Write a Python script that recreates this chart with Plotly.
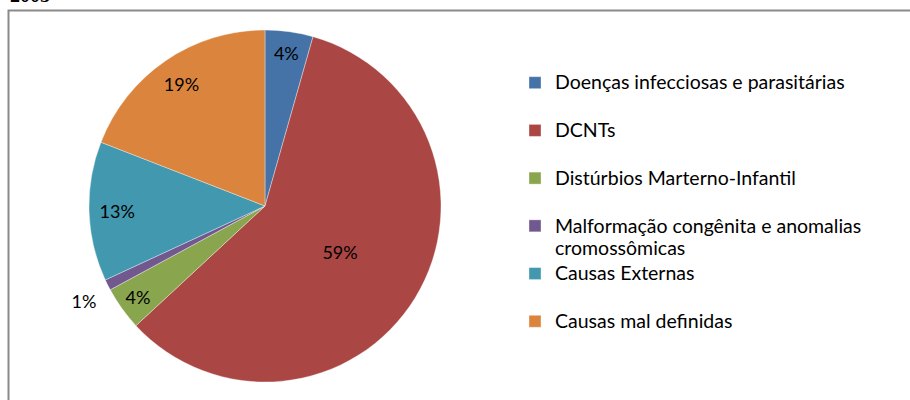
import plotly.graph_objects as go

categories = [
    "Doenças infecciosas e parasitárias",
    "DCNTs",
    "Distúrbios Marterno-Infantil",
    "Malformação congênita e anomalias<br>cromossômicas",
    "Causas Externas",
    "Causas mal definidas",
]
values = [4.4, 58.7, 4.0, 1.0, 12.8, 19.1]
colors = ["#4572A7", "#AA4643", "#89A54E", "#71588F", "#4198AF", "#DB843D"]

# which slices get their percentage from the full pie (centre-ish / outside)
main_text_positions = ["none", "inside", "none", "outside", "none", "none"]
main_templates = ["", "%{percent:.0%}", "", "\u00a0<br>%{percent:.0%}", "", ""]
# which slices get their percentage placed in the outer ring (Excel-like placement)
ring_text_positions = ["inside", "none", "inside", "none", "inside", "inside"]

LEGEND_BASE = 17.2
LEGEND_TEXT = 19.5


def legend_label(c):
    lines = c.split("<br>")
    if len(lines) == 1:
        lines.append(" ")
    return "<br>".join(f"<span style='font-size:{LEGEND_TEXT}px'>{l}</span>" for l in lines)


legend_labels = [legend_label(c) for c in categories]

W, H = 910, 400
cx, cy, r = 265, 206, 176
domain = dict(x=[(cx - r) / W, (cx + r) / W], y=[1 - (cy + r) / H, 1 - (cy - r) / H])
label_font = dict(family="Lato, sans-serif", size=18, color="#000000")

fig = go.Figure()
fig.add_trace(
    go.Pie(
        labels=legend_labels,
        values=values,
        sort=False,
        direction="clockwise",
        rotation=0,
        marker=dict(colors=colors, line=dict(color="rgba(255,255,255,0.6)", width=0.6)),
        texttemplate=main_templates,
        textposition=main_text_positions,
        insidetextorientation="horizontal",
        textfont=label_font,
        domain=domain,
        hoverinfo="label+percent",
        showlegend=True,
    )
)
fig.add_trace(
    go.Pie(
        labels=legend_labels,
        values=values,
        sort=False,
        direction="clockwise",
        rotation=0,
        hole=0.68,
        marker=dict(colors=["rgba(0,0,0,0)"] * len(values), line=dict(width=0)),
        texttemplate="%{percent:.0%}",
        textposition=ring_text_positions,
        insidetextorientation="horizontal",
        textfont=label_font,
        domain=domain,
        hoverinfo="skip",
        showlegend=False,
    )
)

fig.update_layout(
    width=W,
    height=H,
    margin=dict(l=0, r=0, t=0, b=0),
    paper_bgcolor="white",
    plot_bgcolor="white",
    uniformtext=dict(minsize=18, mode="show"),
    font=dict(family="Lato, sans-serif", size=18, color="#000000"),
    legend=dict(
        x=515 / W,
        y=1 - 65 / H,
        xanchor="left",
        yanchor="top",
        valign="top",
        font=dict(family="Lato, sans-serif", size=LEGEND_BASE, color="#000000"),
        bgcolor="rgba(0,0,0,0)",
        itemclick=False,
    ),
    shapes=[
        dict(
            type="rect",
            xref="paper",
            yref="paper",
            x0=8.5 / W,
            x1=1.05,
            y0=-0.05,
            y1=1 - 10.5 / H,
            line=dict(color="#8a8a8a", width=2),
            fillcolor="rgba(0,0,0,0)",
            layer="below",
        )
    ],
    annotations=[
        dict(
            text="<b>2005</b>",
            xref="paper",
            yref="paper",
            x=8 / W,
            y=1 + 5 / H,
            xanchor="left",
            yanchor="middle",
            showarrow=False,
            font=dict(family="Liberation Serif, serif", size=20, color="#000000"),
        )
    ],
)

fig.write_html(
    "out.html",
    config={"displayModeBar": False},
    post_script="document.body.style.margin='0';",
)
